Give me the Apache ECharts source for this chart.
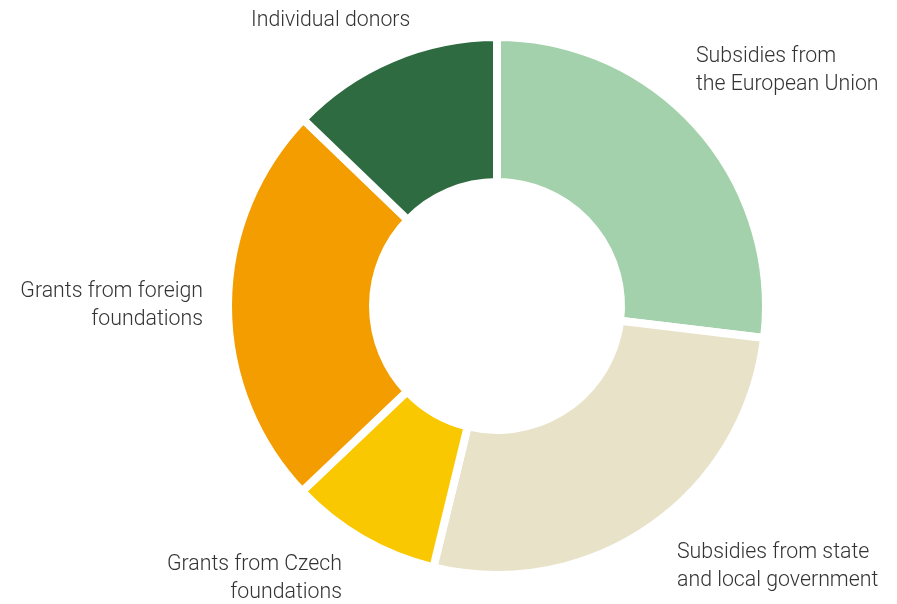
<!DOCTYPE html>
<html><head><meta charset="utf-8">
<script src="https://cdn.jsdelivr.net/npm/echarts@6/dist/echarts.min.js"></script>
<style>html,body{margin:0;padding:0;background:#fff}#c{width:897px;height:604px}</style>
</head><body><div id="c"></div>
<script>
const categories = ['Subsidies from\nthe European Union', 'Subsidies from state\nand local government', 'Grants from Czech\nfoundations', 'Grants from foreign\nfoundations', 'Individual donors'];
const values = [26.9, 26.9, 9.1, 24.3, 12.8];
const colors = ['#a3d1ab', '#e8e2c8', '#fac800', '#f49d00', '#2f6b41'];
const labelSpots = [
  {x: 696, y: 71, align: 'left'},
  {x: 677, y: 567, align: 'left'},
  {x: 342, y: 579, align: 'right'},
  {x: 203, y: 306, align: 'right'},
  {x: 251, y: 21, align: 'left'}
];
const chart = echarts.init(document.getElementById('c'));
chart.setOption({
  animation: false,
  series: [{
    type: 'pie',
    center: [497, 306],
    radius: [124, 269],
    startAngle: 90,
    clockwise: true,
    data: categories.map((n, i) => ({name: n, value: values[i], itemStyle: {color: colors[i]}})),
    itemStyle: {borderColor: '#fff', borderWidth: 8},
    label: {show: true, position: 'outside', formatter: '{b}', color: '#333', fontFamily: 'Roboto', fontWeight: 300, fontSize: 21.3, lineHeight: 28, overflow: 'none', width: 400},
    labelLine: {show: false},
    labelLayout: function (p) {
      const s = labelSpots[p.dataIndex];
      return {x: s.x, y: s.y, align: s.align, verticalAlign: 'middle'};
    },
    emphasis: {disabled: true}
  }]
});
</script></body></html>
